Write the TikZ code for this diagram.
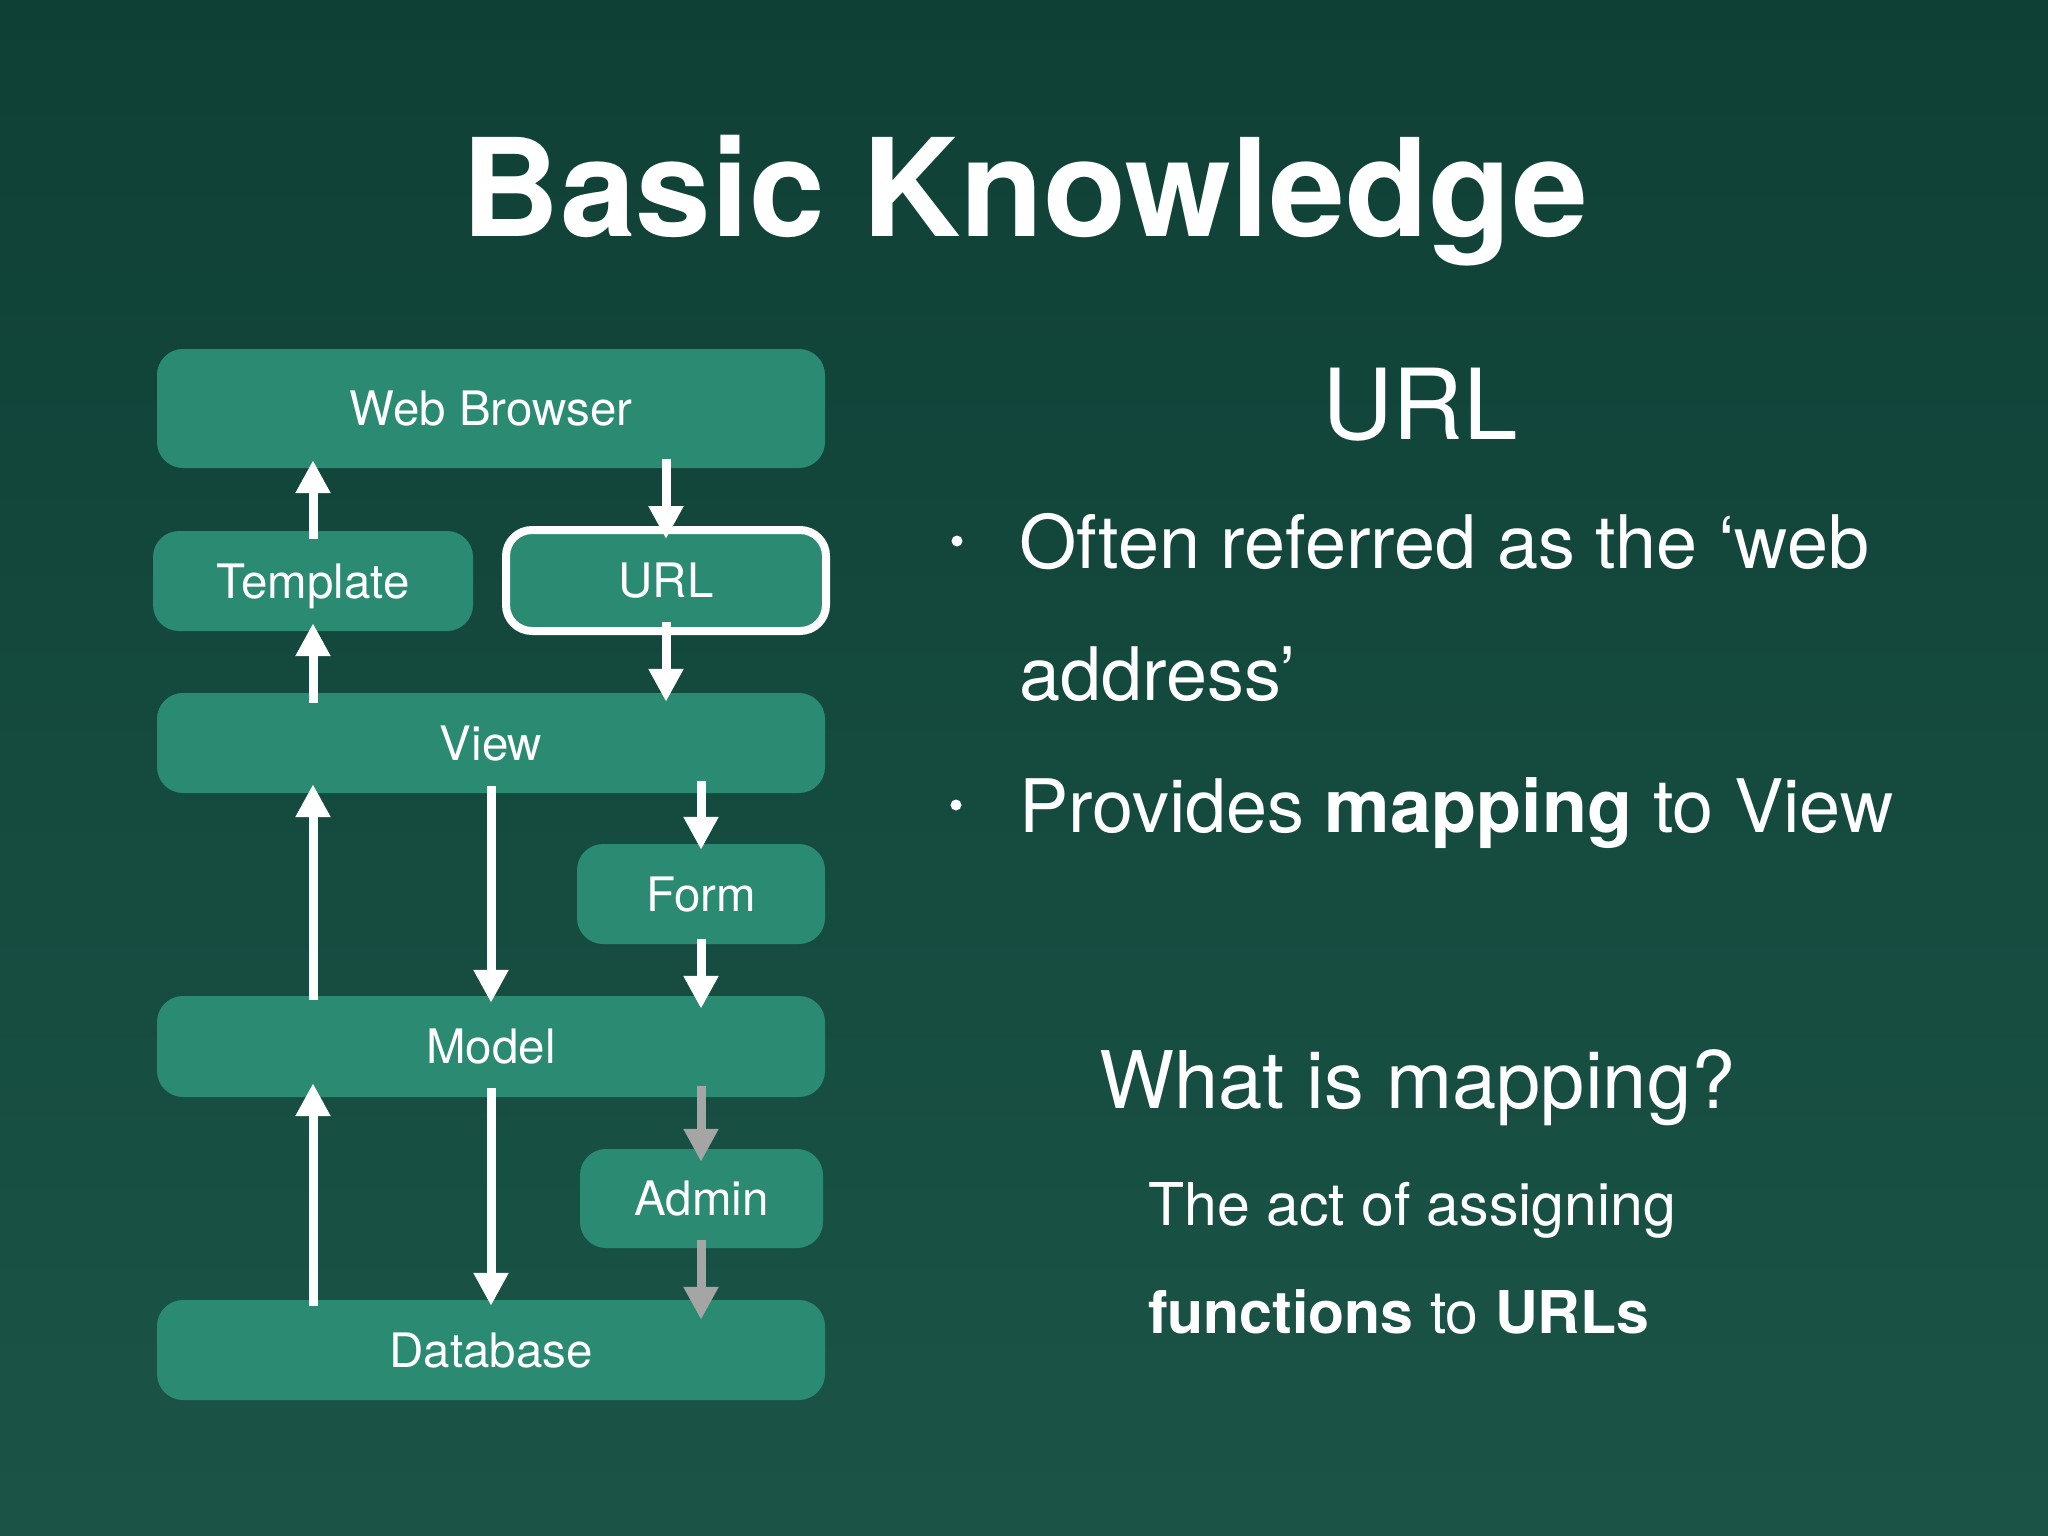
\documentclass[tikz,border=0pt]{standalone}
\usepackage{fontspec}
\setmainfont{TeX Gyre Heros}
\usetikzlibrary{arrows.meta}
\definecolor{bgtop}{RGB}{15,64,54}
\definecolor{bgbot}{RGB}{27,84,71}
\definecolor{boxg}{RGB}{42,138,114}
\definecolor{graya}{RGB}{165,165,165}
\newcommand{\fsz}[1]{\fontsize{#1}{#1}\selectfont}
\begin{document}
\begin{tikzpicture}[x=1pt,y=-1pt,
  box/.style={fill=boxg, rounded corners=26pt, inner sep=0pt, text=white,
    font=\fsz{47.5}, text height=34pt, text depth=0pt, align=center},
  arr/.style={draw=white, line width=9pt, -{Triangle[width=33pt,length=33pt]}},
  garr/.style={arr, draw=graya},
  txt/.style={anchor=base west, inner sep=0pt, text=white},
  dot/.style={circle, fill=white, inner sep=0pt, minimum size=11pt}]
\useasboundingbox (0,0) rectangle (2048,1536);
\shade[top color=bgtop, bottom color=bgbot] (0,0) rectangle (2048,1536);

% title
\node[anchor=base, inner sep=0pt, text=white, font=\bfseries\fsz{136}] (title) at (1025,236) {Basic Knowledge};

% boxes
\node[box, minimum width=668pt, minimum height=119pt] (wb) at (491,408.5) {Web Browser};
\node[box, minimum width=320pt, minimum height=100pt] (tpl) at (313,581) {Template};
\node[box, draw=white, line width=8pt, minimum width=320pt, minimum height=101pt] (url) at (666,580.5) {URL};
\node[box, minimum width=668pt, minimum height=100pt] (view) at (491,743) {View};
\node[box, minimum width=248pt, minimum height=100pt] (form) at (701,894) {Form};
\node[box, minimum width=668pt, minimum height=101pt] (model) at (491,1046.5) {Model};
\node[box, minimum width=243pt, minimum height=99pt] (admin) at (701.5,1198.5) {Admin};
\node[box, minimum width=668pt, minimum height=100pt] (db) at (491,1350) {Database};

% arrows
\draw[arr] ([yshift=-8pt]tpl.north) -- ([yshift=8pt]tpl.north |- wb.south);
\draw[arr] ([yshift=9pt]url.north |- wb.south) -- ([yshift=-13pt]url.north);
\draw[arr] ([yshift=-10pt]tpl.south |- view.north) -- ([yshift=8pt]tpl.south);
\draw[arr] ([yshift=13pt]url.south) -- ([yshift=-9pt]url.south |- view.north);
\draw[arr] ([yshift=-4pt]tpl.south |- model.north) -- ([yshift=9pt]tpl.south |- view.south);
\draw[arr] ([yshift=7pt]view.south) -- ([yshift=-7pt]model.north);
\draw[arr] ([yshift=12pt]form.north |- view.south) -- ([yshift=-6pt]form.north);
\draw[arr] ([yshift=5pt]form.south) -- ([yshift=-13pt]form.south |- model.north);
\draw[garr] ([yshift=11pt]form.south |- model.south) -- ([yshift=-13pt]form.south |- admin.north);
\draw[garr] ([yshift=8pt]form.south |- admin.south) -- ([yshift=-20pt]form.south |- db.north);
\draw[arr] ([yshift=-6pt]tpl.south |- db.north) -- ([yshift=14pt]tpl.south |- model.south);
\draw[arr] ([yshift=9pt]model.south) -- ([yshift=-6pt]db.north);

% right side text
\node[anchor=base, inner sep=0pt, text=white, font=\fsz{98}] (urlh) at (1420,439) {URL};
\node[dot] (b1) at (957,541) {};
\node[txt, font=\fsz{73.8}] (l1) at (1019,568) {Often referred as the ‘web};
\node[txt, font=\fsz{73.8}] (l2) at (1019,700) {address’};
\node[dot] (b2) at (956,805) {};
\node[txt, font=\fsz{73.8}] (l3) at (1019,832) {Provides \textbf{mapping} to View};
\node[txt, font=\fsz{79.5}] (q) at (1099,1108) {What is mapping?};
\node[txt, font=\fsz{59}] (a1) at (1148,1225) {The act of assigning};
\node[txt, font=\fsz{59}] (a2) at (1148,1333) {\textbf{functions} to \textbf{URLs}};
\end{tikzpicture}
\end{document}
